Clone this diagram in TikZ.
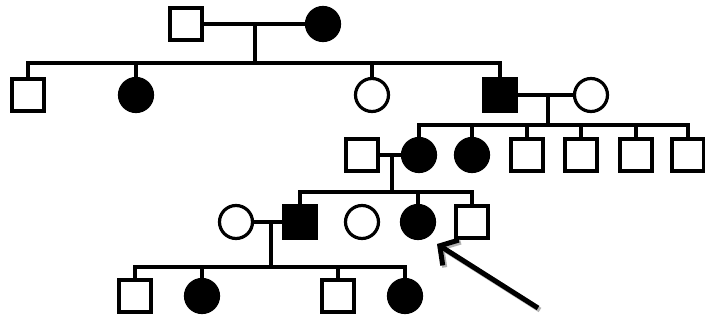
\documentclass[tikz,border=0pt]{standalone}
\usetikzlibrary{arrows.meta}
\begin{document}
\begin{tikzpicture}[x=1pt,y=-1pt,line width=3.2pt,
  male/.style={draw,rectangle,minimum size=32pt,inner sep=0pt},
  female/.style={draw,circle,minimum size=33pt,inner sep=0pt},
  aff/.style={fill=black},
  link/.style={draw,line width=3.2pt},
  pointer/.style={line width=5pt,-{Straight Barb[length=13pt,width=30pt,line width=5pt]}}]
\useasboundingbox (0,0) rectangle (705,322);
\fill[white] (0,0) rectangle (705,322);

% generation I
\node[male] (m1) at (186,24) {};
\node[female,aff] (f1) at (323,24) {};
% generation II
\node[male] (a) at (28,95) {};
\node[female,aff] (b) at (136,95) {};
\node[female] (c) at (372,95) {};
\node[male,aff] (d) at (500,95) {};
\node[female] (e) at (591,95) {};
% generation III
\node[male] (s) at (362,155) {};
\node[female,aff] (g) at (419,155) {};
\node[female,aff] (h) at (472,155) {};
\node[male] (i) at (527,155) {};
\node[male] (j) at (581,155) {};
\node[male] (k) at (636,155) {};
\node[male] (l) at (688,155) {};
% generation IV
\node[female] (w) at (236,222) {};
\node[male,aff] (n) at (300,222) {};
\node[female] (o) at (362,222) {};
\node[female,aff] (p) at (418,222) {};
\node[male] (q) at (472,222) {};
% generation V
\node[male] (r1) at (135,296) {};
\node[female,aff] (r2) at (202,296) {};
\node[male] (r3) at (338,296) {};
\node[female,aff] (r4) at (405,296) {};

% sibship and descent lines
\coordinate (k1) at (255,24);
\coordinate (k1b) at (255,63);
\coordinate (k2) at (548,95);
\coordinate (k2b) at (548,125);
\coordinate (k3) at (392,155);
\coordinate (k3b) at (392,192);
\coordinate (k4) at (271,222);
\coordinate (k4b) at (271,267);

% generation I -> II
\draw[link] (m1.east) -- (f1.west);
\draw[link] (k1) -- (k1b);
\draw[link] (a.north) |- (k1b) -| (d.north);
\draw[link] (b.north) -- (b.north |- k1b);
\draw[link] (c.north) -- (c.north |- k1b);
% generation II -> III
\draw[link] (d.east) -- (e.west);
\draw[link] (k2) -- (k2b);
\draw[link] (g.north) |- (k2b) -| (l.north);
\foreach \x in {h,i,j,k} \draw[link] (\x.north) -- (\x.north |- k2b);
% generation III -> IV
\draw[link] (s.east) -- (g.west);
\draw[link] (k3) -- (k3b);
\draw[link] (n.north) |- (k3b) -| (q.north);
\draw[link] (p.north) -- (p.north |- k3b);
% generation IV -> V
\draw[link] (w.east) -- (n.west);
\draw[link] (k4) -- (k4b);
\draw[link] (r1.north) |- (k4b) -| (r4.north);
\draw[link] (r2.north) -- (r2.north |- k4b);
\draw[link] (r3.north) -- (r3.north |- k4b);

% proband arrow
\coordinate (tail) at (538,308);
\coordinate (tip) at (437,244);
\draw[pointer,gray!60] ([shift={(2,2)}]tail) -- ([shift={(2,2)}]tip);
\draw[pointer] (tail) -- (tip);
\end{tikzpicture}
\end{document}
